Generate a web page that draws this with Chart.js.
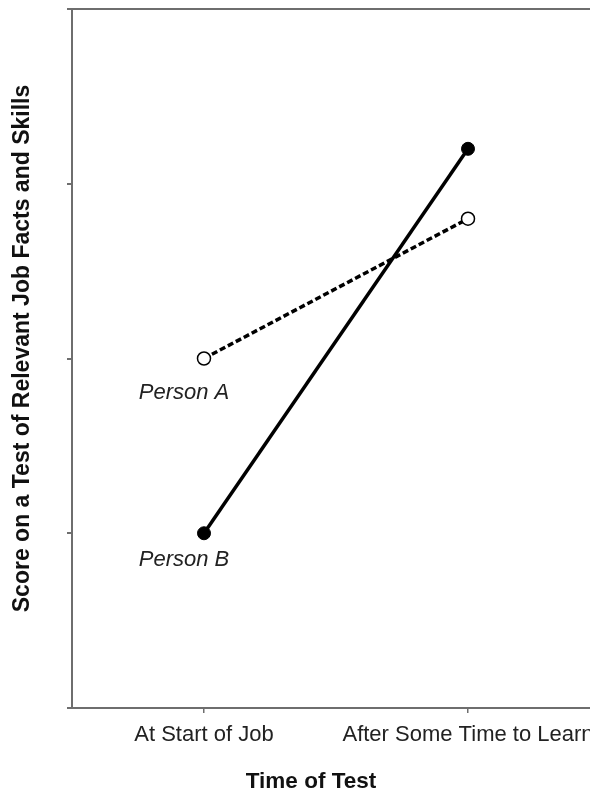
<!DOCTYPE html>
<html>
<head>
<meta charset="utf-8">
<script src="https://cdn.jsdelivr.net/npm/chart.js@4.4.1/dist/chart.umd.min.js"></script>
<style>
  html, body { margin: 0; padding: 0; background: #fff; }
  #clip { width: 590px; height: 792px; overflow: hidden; }
  #wrap { width: 608px; height: 792px; }
</style>
</head>
<body>
<div id="clip"><div id="wrap"><canvas id="chart"></canvas></div></div>
<script>
const timePoints = ['At Start of Job', 'After Some Time to Learn'];
const personA = [2, 2.8];
const personB = [1, 3.2];
const seriesNames = ['Person A', 'Person B'];
const yTicks = [0, 1, 2, 3, 4];
const xTitle = 'Time of Test';
const yTitle = 'Score on a Test of Relevant Job Facts and Skills';

const FONT = '"Liberation Sans", Arial, sans-serif';
const AXIS = '#6e6e6e';

// names under the first point of each line
const personLabels = {
    id: 'personLabels',
    afterDatasetsDraw(chart) {
        const { ctx, scales } = chart;
        const drops = [40, 33];
        ctx.save();
        ctx.fillStyle = '#222';
        ctx.font = 'italic 22px ' + FONT;
        ctx.textAlign = 'center';
        ctx.textBaseline = 'alphabetic';
        [personA, personB].forEach((series, i) => {
            const x = scales.x.getPixelForValue(0) - 20;
            const y = scales.y.getPixelForValue(series[0]) + drops[i];
            ctx.fillText(seriesNames[i], x, y);
        });
        ctx.restore();
    }
};

const axisTitles = {
    id: 'axisTitles',
    afterDraw(chart) {
        const { ctx, chartArea } = chart;
        ctx.save();
        ctx.fillStyle = '#111';
        ctx.textAlign = 'center';
        ctx.textBaseline = 'alphabetic';
        ctx.font = 'bold 22.5px ' + FONT;
        ctx.fillText(xTitle, 311, 788);
        ctx.font = 'bold 23px ' + FONT;
        ctx.translate(29, (chartArea.top + chartArea.bottom) / 2 - 10);
        ctx.rotate(-Math.PI / 2);
        ctx.fillText(yTitle, 0, 0);
        ctx.restore();
    }
};

new Chart(document.getElementById('chart').getContext('2d'), {
    type: 'line',
    data: {
        labels: timePoints,
        datasets: [
            {
                label: seriesNames[0],
                data: personA,
                borderColor: '#000',
                borderWidth: 3.5,
                borderDash: [6, 3],
                tension: 0,
                pointRadius: 6.5,
                pointBackgroundColor: '#fff',
                pointBorderColor: '#000',
                pointBorderWidth: 1.5
            },
            {
                label: seriesNames[1],
                data: personB,
                borderColor: '#000',
                borderWidth: 3.5,
                tension: 0,
                pointRadius: 6.5,
                pointBackgroundColor: '#000',
                pointBorderColor: '#000',
                pointBorderWidth: 1
            }
        ]
    },
    options: {
        responsive: true,
        maintainAspectRatio: false,
        animation: false,
        layout: { padding: { top: 9, right: 0, left: 0, bottom: 0 } },
        plugins: {
            legend: { display: false },
            tooltip: { enabled: false }
        },
        scales: {
            x: {
                offset: true,
                grid: { drawOnChartArea: false, tickLength: 5, tickColor: AXIS, lineWidth: 1.5 },
                border: { color: AXIS, width: 2 },
                ticks: { color: '#222', font: { family: FONT, size: 22 }, padding: 9, maxRotation: 0, autoSkip: false },
                afterFit(scale) { scale.height = 84; }
            },
            y: {
                min: yTicks[0],
                max: yTicks[yTicks.length - 1],
                afterBuildTicks(scale) { scale.ticks = yTicks.map(v => ({ value: v })); },
                grid: {
                    drawOnChartArea: true,
                    tickLength: 5,
                    lineWidth: 2,
                    tickColor: AXIS,
                    color: c => (c.tick && c.tick.value === yTicks[yTicks.length - 1]) ? AXIS : 'rgba(0,0,0,0)'
                },
                border: { color: AXIS, width: 2 },
                ticks: { display: false },
                afterFit(scale) { scale.width = 72; }
            }
        }
    },
    plugins: [personLabels, axisTitles]
});
</script>
</body>
</html>
